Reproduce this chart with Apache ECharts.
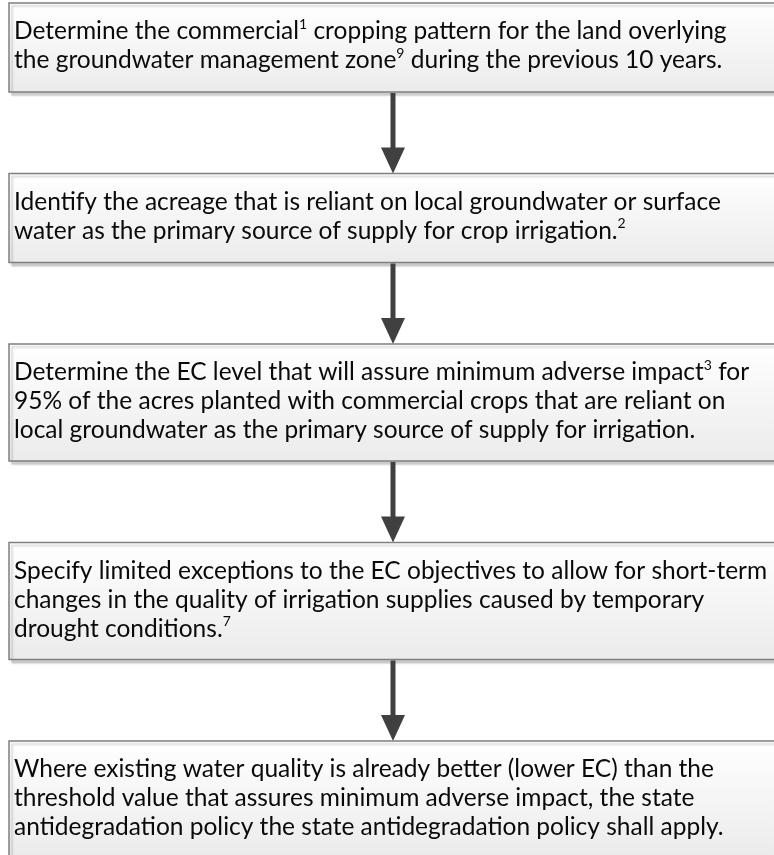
<!DOCTYPE html>
<html>
<head>
<meta charset="utf-8">
<script src="https://cdn.jsdelivr.net/npm/echarts@6/dist/echarts.min.js"></script>
<style>
html, body { margin: 0; padding: 0; background: #fff; }
#main { width: 774px; height: 855px; }
</style>
</head>
<body>
<div id="main"></div>
<script>
// flow steps, one string per printed line, {s|n} = footnote superscript
var step1 = ['Determine the commercial{s|1} cropping pattern for the land overlying',
             'the groundwater management zone{s|9} during the previous 10 years.'];
var step2 = ['Identify the acreage that is reliant on local groundwater or surface',
             'water as the primary source of supply for crop irrigation.{s|2}'];
var step3 = ['Determine the EC level that will assure minimum adverse impact{s|3} for',
             '95% of the acres planted with commercial crops that are reliant on',
             'local groundwater as the primary source of supply for irrigation.'];
var step4 = ['Specify limited exceptions to the EC objectives to allow for short-term',
             'changes in the quality of irrigation supplies caused by temporary',
             'drought conditions.{s|7}'];
var step5 = ['Where existing water quality is already better (lower EC) than the',
             'threshold value that assures minimum adverse impact, the state',
             'antidegradation policy the state antidegradation policy shall apply.'];
var steps = [step1, step2, step3, step4, step5];

var W = 774, H = 855;
var lineH = 28;      // box growth per line
var textLineH = 29;  // spacing of printed lines
var gap = 81.5;
var boxLeft = 9;
var arrowX = 393;
var font = 'Lato, "Open Sans", sans-serif';

// box tops worked out from how many lines each step has
var tops = [];
var heights = [];
var yy = 3;
for (var i = 0; i < steps.length; i++) {
    tops.push(yy);
    heights.push(steps[i].length * lineH + 33);
    yy += heights[i] + gap;
}

var chart = echarts.init(document.getElementById('main'));

function renderStep(params, api) {
    var i = api.value(0);
    var p0 = api.coord([boxLeft, tops[i]]);
    var p1 = api.coord([W + 30, tops[i] + heights[i]]);
    var children = [];
    children.push({
        type: 'rect',
        shape: { x: p0[0], y: p0[1], width: p1[0] - p0[0], height: p1[1] - p0[1] },
        style: {
            fill: new echarts.graphic.LinearGradient(0, 0, 0, 1, [
                { offset: 0, color: '#ffffff' },
                { offset: 1, color: '#ebebeb' }
            ]),
            stroke: '#7f7f7f',
            lineWidth: 1.5,
            shadowColor: 'rgba(0,0,0,0.18)',
            shadowBlur: 2,
            shadowOffsetX: 3,
            shadowOffsetY: 3
        }
    });
    children.push({
        type: 'text',
        x: p0[0] + 5,
        y: p0[1] + 14,
        style: {
            text: steps[i].join('\n'),
            fill: '#0a0a0a',
            fontFamily: font,
            fontSize: 24.5,
            lineHeight: textLineH,
            verticalAlign: 'top',
            rich: {
                s: { fontSize: 14, lineHeight: 18, verticalAlign: 'top',
                     fontFamily: font, fill: '#0a0a0a' }
            }
        }
    });
    if (i < steps.length - 1) {
        var a0 = api.coord([arrowX, tops[i] + heights[i]]);
        var a1 = api.coord([arrowX, tops[i + 1]]);
        var headH = 26, headW = 12;
        children.push({
            type: 'line',
            shape: { x1: a0[0], y1: a0[1] + 1, x2: a1[0], y2: a1[1] - headH + 2 },
            style: { stroke: '#404040', lineWidth: 5 }
        });
        children.push({
            type: 'polygon',
            shape: { points: [[a1[0] - headW, a1[1] - headH], [a1[0] + headW, a1[1] - headH], [a1[0], a1[1]]] },
            style: { fill: '#404040' }
        });
    }
    return { type: 'group', children: children };
}

chart.setOption({
    animation: false,
    grid: { left: 0, right: 0, top: 0, bottom: 0 },
    xAxis: { type: 'value', min: 0, max: W, show: false },
    yAxis: { type: 'value', min: 0, max: H, inverse: true, show: false },
    series: [{
        type: 'custom',
        clip: true,
        renderItem: renderStep,
        data: steps.map(function (s, i) { return [i]; })
    }]
});
</script>
</body>
</html>
